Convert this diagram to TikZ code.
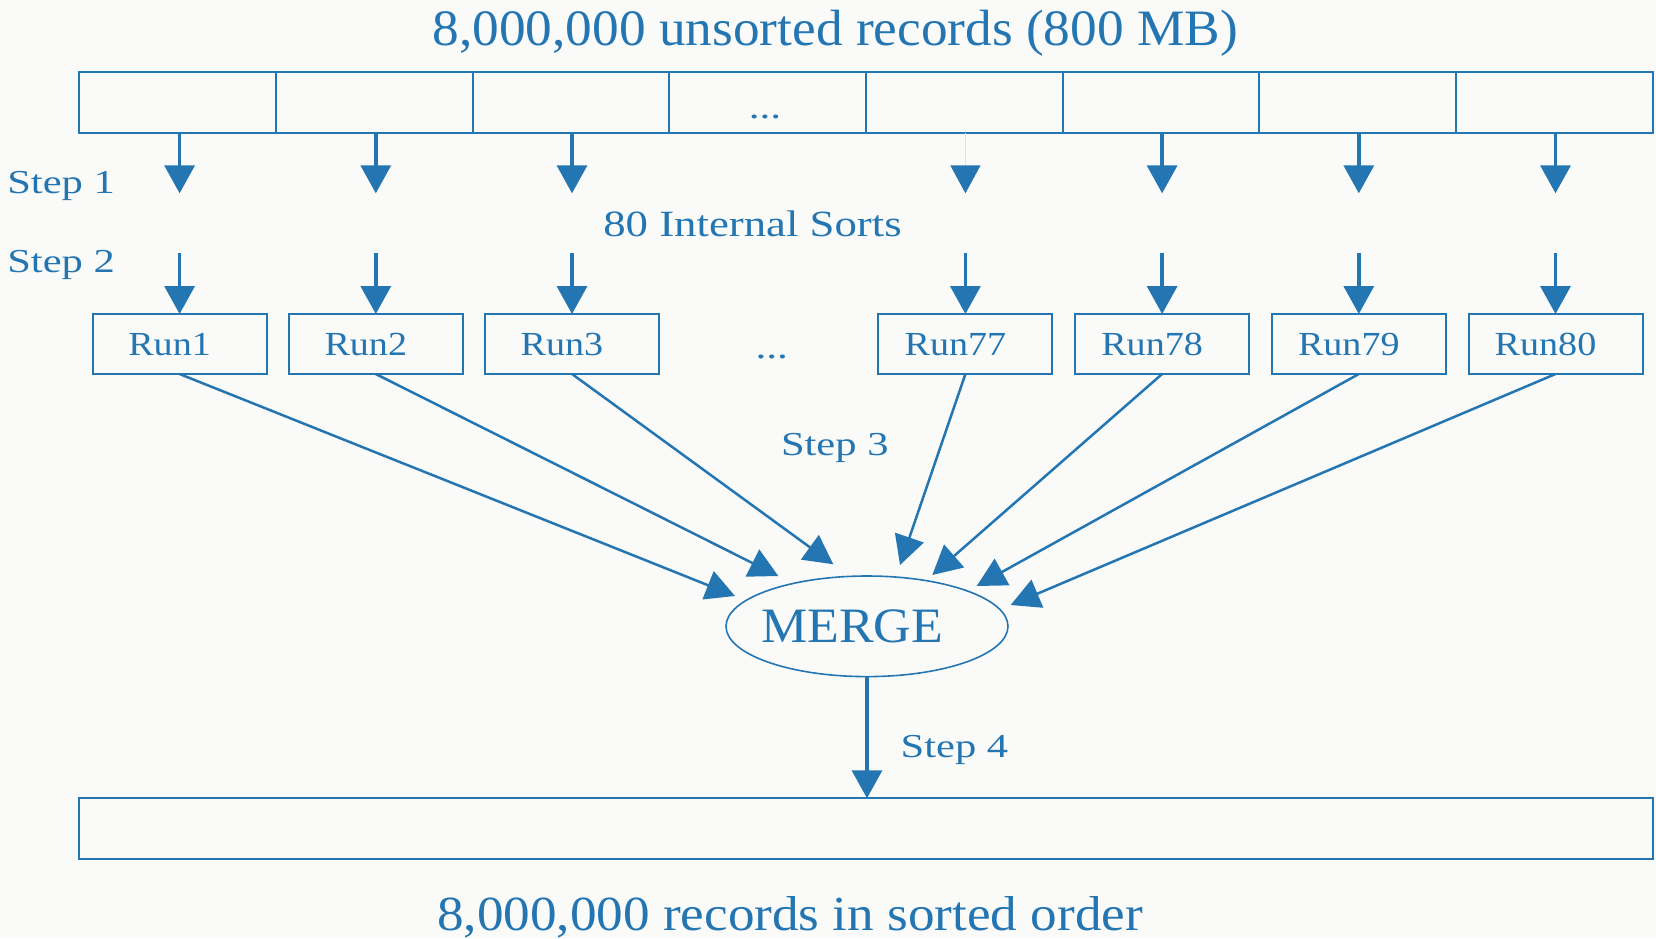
\documentclass[tikz,border=0pt]{standalone}
\usepackage{fontspec}
\setmainfont{Liberation Serif}
\usepackage{graphicx}
\usetikzlibrary{arrows.meta,shapes.geometric}

\definecolor{ink}{RGB}{36,118,179}
\definecolor{paleink}{RGB}{214,228,238}
\definecolor{paper}{RGB}{250,250,248}

% text of a given size (pt) and horizontal stretch
\newcommand\lbltext[3]{\scalebox{#2}[1]{\fontsize{#1}{#1}\selectfont #3}}

\tikzset{
  cell/.style={draw=ink, line width=2pt, minimum width=196.7pt, minimum height=61pt, inner sep=0pt, outer sep=0pt},
  runbox/.style={draw=ink, line width=2pt, minimum width=174pt, minimum height=60pt, inner sep=0pt, outer sep=0pt},
  bigbar/.style={draw=ink, line width=2pt, minimum width=1573.6pt, minimum height=60.5pt, inner sep=0pt, outer sep=0pt},
  vflow/.style={draw=ink, line width=3.5pt, -{Triangle[length=28pt,width=30pt]}},
  merging/.style={draw=ink, line width=2.5pt, -{Triangle[length=29pt,width=30pt]}},
  lbl/.style={text=ink, inner sep=0pt, outer sep=0pt},
}

\begin{document}
\begin{tikzpicture}[x=1pt,y=-1pt]
\fill[paper] (0,0) rectangle (1656,938);
\useasboundingbox (0,0) rectangle (1656,938);

% input file split into eight blocks
\foreach \i in {1,...,8}
  \node[cell] (c\i) at ({79.2+196.7*(\i-0.5)},102.5) {};
\node[lbl, anchor=base] (dotsA) at (765,118) {\lbltext{34}{1.27}{...}};

% heights of the free arrow ends
\coordinate (lvlA) at (0,193.3);
\coordinate (lvlB) at (0,253.3);
\coordinate (runbase) at (0,355);

% sorted runs
\node[runbox] (run1)  at (179.6,344) {};
\node[runbox] (run2)  at (375.8,344) {};
\node[runbox] (run3)  at (572.0,344) {};
\node[runbox] (run77) at (965.4,344) {};
\node[runbox] (run78) at (1162.1,344) {};
\node[runbox] (run79) at (1358.8,344) {};
\node[runbox] (run80) at (1555.5,344) {};
\node[lbl, anchor=base] (dotsB) at (771.7,358) {\lbltext{34}{1.27}{...}};

\foreach \r/\t in {run1/Run1,run2/Run2,run3/Run3,run77/Run77,run78/Run78,run79/Run79,run80/Run80}
  \path (\r.center |- runbase) ++(-10,0) node[lbl, anchor=base] (\r t) {\lbltext{33.7}{1.13}{\t}};

% step 1 and step 2 arrows, one column per run
\foreach \i/\r in {1/run1,2/run2,3/run3,6/run78,7/run79,8/run80}{
  \coordinate (top\i) at (\r.north |- c\i.south);
  \coordinate (a\i) at (\r.north |- lvlA);
  \coordinate (b\i) at (\r.north |- lvlB);
  \draw[vflow] (top\i) -- (a\i);
  \draw[vflow] (b\i) -- (\r.north);
}
\coordinate (top5) at (run77.north |- c5.south);
\coordinate (a5) at (run77.north |- lvlA);
\coordinate (b5) at (run77.north |- lvlB);
\draw[draw=paleink, line width=1.5pt, -{Triangle[length=28pt,width=30pt,color=ink]}] (top5) -- (a5);
\draw[vflow] (b5) -- (run77.north);

% merge
\node[draw=ink, line width=1.6pt, ellipse, minimum width=282pt, minimum height=100.6pt, inner sep=0pt] (merge) at (867,626.3) {};
\node[lbl, anchor=base] (mergetxt) at (852.2,642.7) {\lbltext{49.5}{1.05}{MERGE}};

\coordinate (t1)  at (735,596);
\coordinate (t2)  at (778.3,576);
\coordinate (t3)  at (833.3,564.3);
\coordinate (t77) at (900,565);
\coordinate (t78) at (932.3,575);
\coordinate (t79) at (976.7,586);
\coordinate (t80) at (1010.7,605);
\foreach \r in {1,2,3,77,78,79,80}
  \draw[merging] (run\r.south) -- (t\r);

% output file
\node[bigbar] (outbar) at (866,828.5) {};
\draw[vflow] (merge.south) -- (merge.south |- outbar.north);

% labels
\node[lbl, anchor=base] (title) at (835.3,45.4) {\lbltext{51}{1.045}{8,000,000 unsorted records (800 MB)}};
\node[lbl, anchor=base] (result) at (790,930.5) {\lbltext{49}{1.085}{8,000,000 records in sorted order}};
\node[lbl, anchor=base west] (step1) at (7.3,193.3) {\lbltext{33.5}{1.27}{Step 1}};
\node[lbl, anchor=base west] (step2) at (7.3,272.7) {\lbltext{33.5}{1.27}{Step 2}};
\node[lbl, anchor=base] (sorts) at (752.5,236.7) {\lbltext{37}{1.21}{80 Internal Sorts}};
\node[lbl, anchor=base west] (step3) at (781,455) {\lbltext{33.5}{1.27}{Step 3}};
\node[lbl, anchor=base west] (step4) at (900.7,757.3) {\lbltext{33.5}{1.27}{Step 4}};
\end{tikzpicture}
\end{document}
